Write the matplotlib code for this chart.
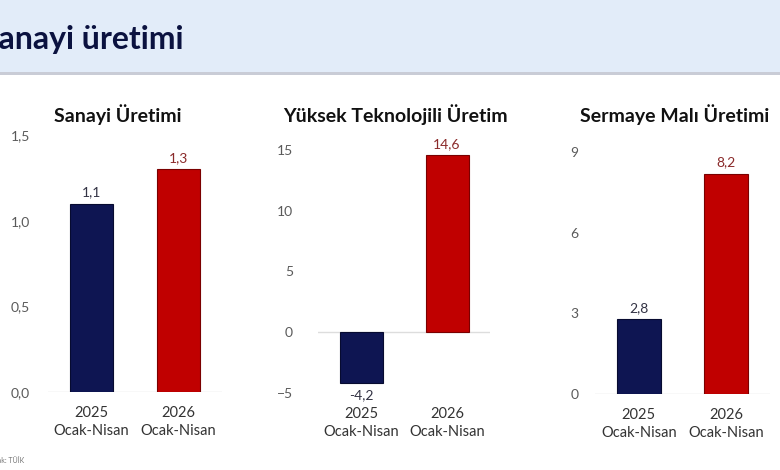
import matplotlib.pyplot as plt
from matplotlib.patches import Rectangle

plt.rcParams['font.family'] = ['Lato', 'DejaVu Sans']

# veriler
kategoriler = ["2025\nOcak-Nisan", "2026\nOcak-Nisan"]
basliklar = ["Sanayi Üretimi", "Yüksek Teknolojili Üretim", "Sermaye Malı Üretimi"]
sanayi = [1.1, 1.3]
yuksek_tek = [-4.2, 14.6]
sermaye = [2.8, 8.2]
ytik1 = [0.0, 0.5, 1.0, 1.5]
ytik2 = [-5, 0, 5, 10, 15]
ytik3 = [0, 3, 6, 9]

lacivert = "#0e1552"
kirmizi = "#c00000"
gri = "#5a5a5a"

W, H = 780, 470
fig = plt.figure(figsize=(7.8, 4.7), dpi=100)
fig.patch.set_facecolor("white")

# ust baslik bandi
fig.patches.append(Rectangle((0, 1 - 72 / H), 1, 72 / H, transform=fig.transFigure,
                             facecolor="#e2ecf9", edgecolor="none", zorder=0))
fig.patches.append(Rectangle((0, 1 - 75 / H), 1, 3 / H, transform=fig.transFigure,
                             facecolor="#c9ccd6", edgecolor="none", zorder=0))
fig.text(-19 / W, 1 - 40 / H, "Sanayi üretimi", fontsize=23, fontweight="bold",
         color="#0b1240", va="center", ha="left")
fig.text(-18 / W, 1 - 460 / H, "Kaynak: TÜİK", fontsize=5, color="#777777", va="center")


def panel(sol, sag, ust, alt, degerler, ylim, yt, baslik, bx, pad, etiket_renk):
    ax = fig.add_axes([sol / W, 1 - alt / H, (sag - sol) / W, (alt - ust) / H])
    ax.bar(range(2), degerler, width=0.5, color=[lacivert, kirmizi],
           edgecolor=["#070b30", "#7a0000"], linewidth=0.8, zorder=3)
    ax.set_xlim(-0.5, 1.5)
    ax.set_ylim(*ylim)
    ax.set_yticks(yt)
    if isinstance(yt[0], float):
        ax.set_yticklabels([f"{v:.1f}".replace(".", ",") for v in yt])
    ax.set_xticks(range(2))
    ax.set_xticklabels(kategoriler, fontsize=10.5, color="#333333", linespacing=1.35)
    ax.tick_params(axis="y", length=0, pad=pad, labelsize=10, labelcolor=gri)
    ax.tick_params(axis="x", length=0, pad=10)
    for s in ax.spines.values():
        s.set_visible(False)
    ax.axhline(0, color="#dddddd", lw=1, zorder=2)
    aralik = ylim[1] - ylim[0]
    for i, v in enumerate(degerler):
        y = v + aralik * 0.045 if v >= 0 else v - aralik * 0.05
        ax.text(i, y, f"{v:.1f}".replace(".", ","), ha="center", va="center",
                fontsize=10, color=etiket_renk[i])
    fig.text(bx / W, 1 - 115 / H, baslik, ha="center", va="center",
             fontsize=14, fontweight="bold", color="#111111")
    return ax


panel(48, 222, 135, 392, sanayi, (0, 1.5), ytik1, basliklar[0], 118, 13, ["#333344", "#8a2a2a"])
panel(318, 490, 150, 393, yuksek_tek, (-5, 15), ytik2, basliklar[1], 395, 18, ["#333344", "#8a2a2a"])
panel(595, 770, 152, 394, sermaye, (0, 9), ytik3, basliklar[2], 675, 12, ["#333344", "#8a2a2a"])

fig.savefig("out.png", dpi=100)
